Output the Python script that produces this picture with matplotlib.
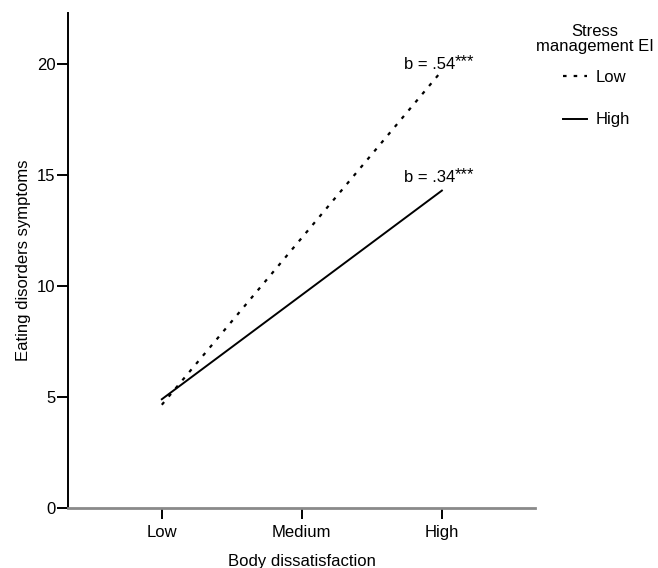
import matplotlib
matplotlib.use('Agg')
from matplotlib import pyplot as plt

plt.rcParams['font.family'] = ['Liberation Sans', 'DejaVu Sans']
plt.rcParams['font.size'] = 12

levels = ['Low', 'Medium', 'High']
x_low_high = [0, 2]
ei_low = [4.65, 19.7]
ei_high = [4.9, 14.3]
slopes = ['b = .54', 'b = .34']
label_y = [20.0, 14.9]
yticks = [0, 5, 10, 15, 20]

fig = plt.figure(figsize=(6.58, 5.68), dpi=100)
ax = fig.add_axes([68 / 658, 60 / 568, (535 - 68) / 658, (508 - 13) / 568])

ax.plot(x_low_high, ei_low, color='black', lw=1.6, linestyle=(0, (1.6, 3.2)), label='Low')
ax.plot(x_low_high, ei_high, color='black', lw=1.4, label='High')

for yv, s in zip(label_y, slopes):
    ax.text(2.093, yv, s, ha='right', va='center', fontsize=12)
    ax.text(2.09, yv + 0.12, '***', ha='left', va='center', fontsize=12)

ax.set_xlim(-0.67, 2.665)
ax.set_ylim(0, 22.3)
ax.set_xticks(range(len(levels)))
ax.set_xticklabels(levels)
ax.set_yticks(yticks)

for side in ['top', 'right']:
    ax.spines[side].set_visible(False)
ax.spines['left'].set_linewidth(1.4)
ax.spines['bottom'].set_color('#8a8a8a')
ax.spines['bottom'].set_linewidth(2)
ax.spines['bottom'].set_zorder(3)
ax.tick_params(axis='y', direction='out', length=8, width=1.4, color='black', pad=1)
ax.tick_params(axis='x', direction='out', length=8, width=1.4, color='black', pad=4)

ax.set_xlabel('Body dissatisfaction', labelpad=10)
ax.set_ylabel('Eating disorders symptoms', labelpad=4)

fig.text(595 / 658, 1 - 39 / 568, 'Stress\nmanagement EI', ha='center', va='center',
         fontsize=12, linespacing=1.0)
leg = fig.legend(loc='upper left', bbox_to_anchor=(563 / 658, 1 - 70 / 568), frameon=False,
                 handlelength=1.45, handletextpad=0.5, labelspacing=1.65,
                 fontsize=12, borderaxespad=0, borderpad=0)

fig.savefig('out.png', dpi=100)
